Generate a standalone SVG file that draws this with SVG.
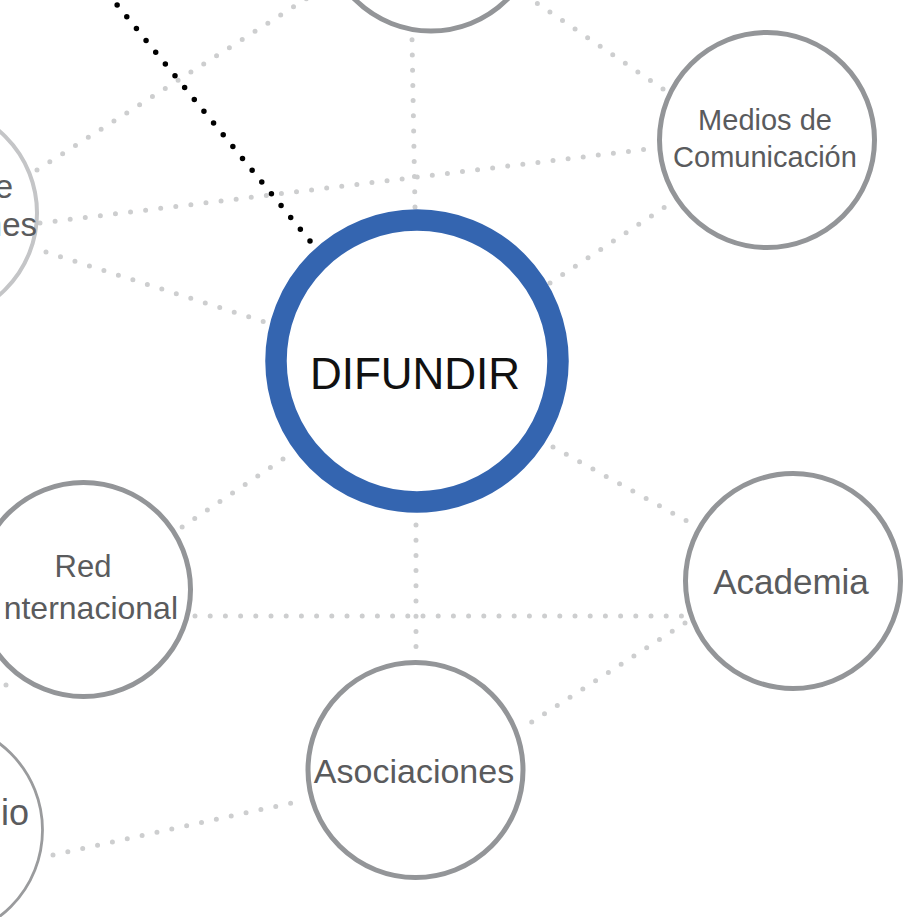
<svg xmlns="http://www.w3.org/2000/svg" width="903" height="917" viewBox="0 0 903 917">
<style>
.bg{fill:#ffffff}
.link{fill:none;stroke:#cdcecf;stroke-width:5;stroke-linecap:round;stroke-dasharray:0 15.2}
.blk{fill:none;stroke:#000000;stroke-width:5.5;stroke-linecap:round;stroke-dasharray:0 15.24}
.node{fill:#ffffff;stroke:#939598;stroke-width:5}
.faint{fill:#ffffff;stroke:#c4c5c7;stroke-width:4}
.thin{fill:#ffffff;stroke:#9a9b9d;stroke-width:2.8}
.main{fill:#ffffff;stroke:#3465b0;stroke-width:21.5}
.lbl{font-family:"Liberation Sans",Arial,sans-serif;fill:#5a5b5d}
.c{text-anchor:middle}
.e{text-anchor:end}
</style>
<rect class="bg" x="0" y="0" width="903" height="917"/>
<g id="connectors">
<path class="link" d="M37,170 L320,-10"/>
<path class="link" d="M663,89 L525,-5"/>
<path class="link" d="M415,207 L412,38"/>
<path class="link" d="M40,223 L648,149"/>
<path class="link" d="M46,252 L265,322"/>
<path class="link" d="M550,283 L665,207"/>
<path class="link" d="M283,459 L182,527"/>
<path class="link" d="M553,447 L687,521"/>
<path class="link" d="M416,525 L416,648"/>
<path class="link" d="M195,616 L683,616"/>
<path class="link" d="M685,623 L530,723"/>
<path class="link" d="M53,855 L305,800"/>
<path class="link" d="M6,685 L-20,717"/>
<path class="blk" d="M310,241 L100,-16"/>
</g>
<g id="node-top">
<circle class="node" cx="431" cy="-76.5" r="107.5"/>
</g>
<g id="node-left-top">
<circle class="faint" cx="-71" cy="213" r="108"/>
<text class="lbl e" x="13" y="198" font-size="33">e</text>
<text class="lbl e" x="37" y="236" font-size="33">nes</text>
</g>
<g id="node-medios">
<circle class="node" cx="767" cy="140" r="107.5"/>
<text class="lbl c" x="765" y="130" font-size="29">Medios de</text>
<text class="lbl c" x="765" y="166.5" font-size="29">Comunicación</text>
</g>
<g id="node-difundir">
<circle class="main" cx="417" cy="361" r="141"/>
<text x="415" y="389" font-size="44" text-anchor="middle" font-family="Liberation Sans, Arial, sans-serif" fill="#111111">DIFUNDIR</text>
</g>
<g id="node-red">
<circle class="node" cx="83.5" cy="589.5" r="107"/>
<text class="lbl c" x="83" y="577" font-size="31">Red</text>
<text class="lbl e" x="178" y="619" font-size="32">nternacional</text>
</g>
<g id="node-academia">
<circle class="node" cx="793" cy="581" r="107.5"/>
<text class="lbl c" x="791" y="594" font-size="35">Academia</text>
</g>
<g id="node-asociaciones">
<circle class="node" cx="415.5" cy="770" r="107.5"/>
<text class="lbl c" x="414" y="783" font-size="34">Asociaciones</text>
</g>
<g id="node-left-bottom">
<circle class="thin" cx="-66" cy="830" r="108.5"/>
<text class="lbl e" x="29" y="825" font-size="36">io</text>
</g>
</svg>
